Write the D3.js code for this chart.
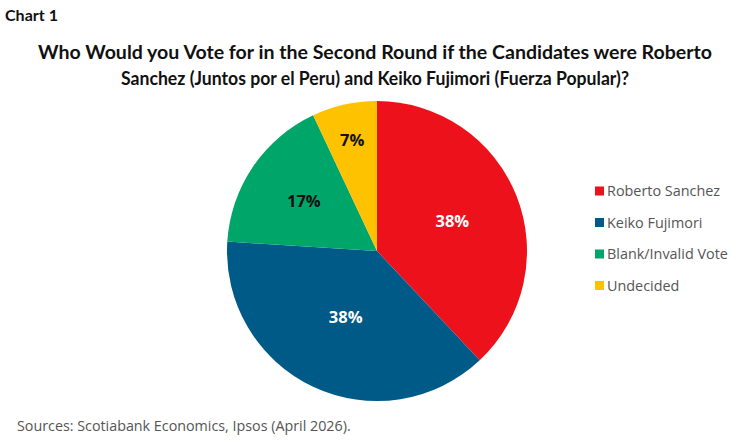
<!DOCTYPE html>
<html><head><meta charset="utf-8">
<script src="https://cdn.jsdelivr.net/npm/d3@7"></script>
<style>body{margin:0;background:#fff}svg{display:block}</style>
</head><body>
<script>
const categories = ["Roberto Sanchez","Keiko Fujimori","Blank/Invalid Vote","Undecided"];
const values = [38,38,17,7];
const colors = ["#EC111A","#005A88","#00A56A","#FFC200"];
const labelColors = ["#fff","#fff","#111","#111"];
const titleLines = ["Who Would you Vote for in the Second Round if the Candidates were Roberto","Sanchez (Juntos por el Peru) and Keiko Fujimori (Fuerza Popular)?"];

const W=750,H=446;
const svg=d3.select("body").append("svg").attr("width",W).attr("height",H);
const font="'Open Sans', sans-serif";
const tfont="Lato, sans-serif";

svg.append("text").attr("x",5).attr("y",21).text("Chart 1")
  .attr("font-family",tfont).attr("font-weight",700).attr("font-size",15).attr("fill","#111")
  .attr("textLength",53).attr("lengthAdjust","spacingAndGlyphs");
titleLines.forEach((t,i)=>{
  svg.append("text").attr("x",375).attr("y",59+i*26).attr("text-anchor","middle")
    .attr("font-family",tfont).attr("font-weight",700).attr("font-size",19.5).attr("fill","#111")
    .attr("textLength",i==0?674:508).attr("lengthAdjust","spacingAndGlyphs").text(t);
});

const cx=377,cy=251,R=150;
const pie=d3.pie().sort(null).value(d=>d)(values);
const arc=d3.arc().innerRadius(0).outerRadius(R);
const g=svg.append("g").attr("transform",`translate(${cx},${cy})`);
g.selectAll("path").data(pie).join("path").attr("d",arc).attr("fill",(d,i)=>colors[i]);
const labelR=[0.54,0.49,0.59,0.76];
g.selectAll("text").data(pie).join("text")
  .attr("transform",(d,i)=>{const a=(d.startAngle+d.endAngle)/2;const r=R*labelR[i];return `translate(${r*Math.sin(a)},${-r*Math.cos(a)})`;})
  .attr("text-anchor","middle").attr("dy","0.35em")
  .attr("font-family",font).attr("font-weight",700).attr("font-size",16.5)
  .attr("fill",(d,i)=>labelColors[i]).text(d=>d.data+"%");

const lg=svg.append("g");
categories.forEach((c,i)=>{
  const y=191+i*31.5;
  lg.append("rect").attr("x",595).attr("y",y-4.5).attr("width",9).attr("height",9).attr("fill",colors[i]);
  lg.append("text").attr("x",607).attr("y",y).attr("dy","0.35em").attr("font-family",font)
    .attr("font-size",14.4).attr("fill","#555").text(c);
});
svg.append("text").attr("x",17).attr("y",431).attr("font-family",font).attr("font-size",14.3)
  .attr("fill","#555").text("Sources: Scotiabank Economics, Ipsos (April 2026).");
</script>
</body></html>
